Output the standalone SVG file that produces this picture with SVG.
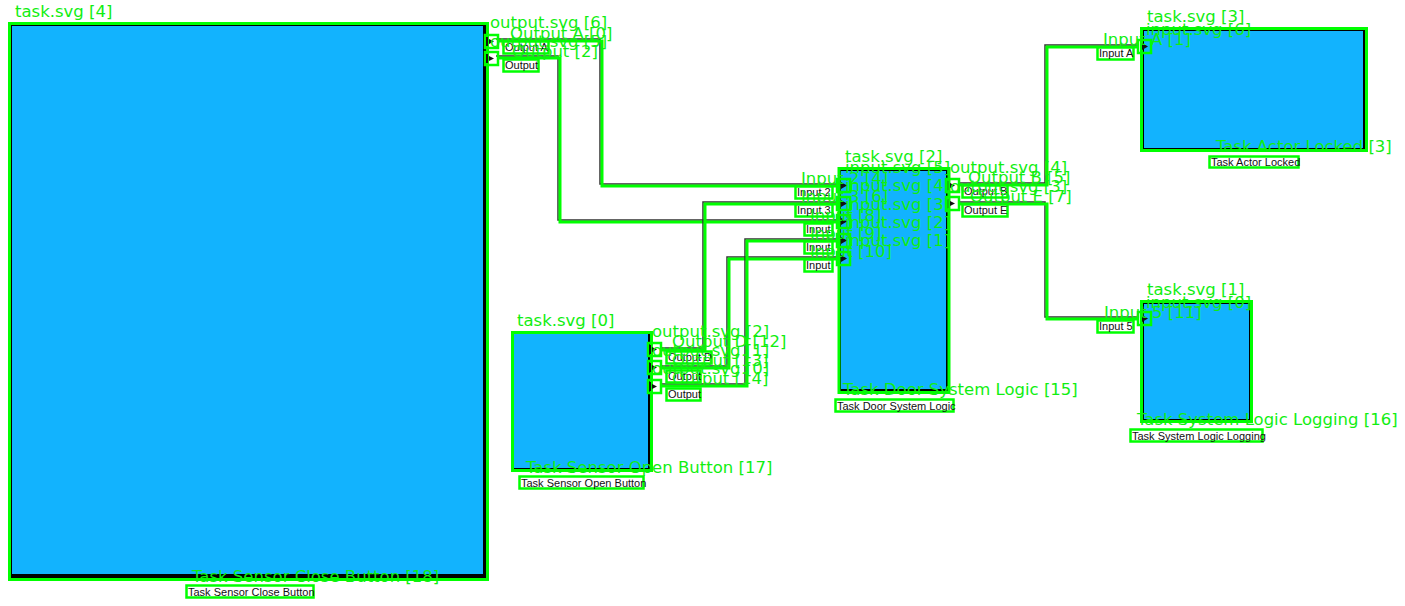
<svg xmlns="http://www.w3.org/2000/svg" width="1405" height="606" viewBox="0 0 1405 606">
<style>
.sh{fill:#000}
.bl{fill:#12b3fe}
.gb{fill:none;stroke:#0f0;stroke-width:3}
.gp{fill:none;stroke:#0f0;stroke-width:2.5}
.gt{font-family:"DejaVu Sans",sans-serif;font-size:16.5px;fill:#1e1}
.bt{font-family:"Liberation Sans",Arial,sans-serif;font-size:11px;fill:#111}
.lb{fill:#fff;stroke:#0f0;stroke-width:2.5}
.cd{fill:none;stroke:#333;stroke-width:1.5}
.cg{fill:none;stroke:#0f0;stroke-width:3}
.ar{fill:#111}
</style>
<rect width="1405" height="606" fill="#fff"/>
<g id="connectors">
<path class="cd" d="M496,39 H600 V184 H838"/>
<path class="cg" d="M498,41 H602 V186 H838"/>
<path class="cd" d="M496,56 H558 V220 H838"/>
<path class="cg" d="M498,58 H560 V222 H838"/>
<path class="cd" d="M661,348 H703 V202 H838"/>
<path class="cg" d="M661,350 H705 V204 H838"/>
<path class="cd" d="M661,366 H727 V257 H838"/>
<path class="cg" d="M661,368 H729 V259 H838"/>
<path class="cd" d="M661,384 H745 V239 H838"/>
<path class="cg" d="M661,386 H747 V241 H838"/>
<path class="cd" d="M959,183 H1045 V45 H1138"/>
<path class="cg" d="M959,185 H1047 V47 H1138"/>
<path class="cd" d="M959,202 H1045 V317 H1138"/>
<path class="cg" d="M959,204 H1047 V319 H1138"/>
</g>
<g id="task-sensor-close-button">
<rect class="sh" x="11" y="25" width="475" height="553"/>
<rect class="bl" x="12" y="26" width="471" height="548"/>
<rect class="gb" x="9.5" y="23.5" width="478" height="556"/>
<text class="gt" x="15" y="17">task.svg [4]</text>
<rect class="gp" x="485" y="35" width="13" height="13"/>
<rect class="ar" x="486" y="37" width="2" height="9"/>
<polygon class="ar" points="489,39 494,41.5 489,44"/>
<rect class="gp" x="485" y="52" width="13" height="13"/>
<rect class="ar" x="486" y="54" width="2" height="9"/>
<polygon class="ar" points="489,56 494,58.5 489,61"/>
<rect class="lb" x="503.5" y="41.5" width="45" height="12"/>
<text class="bt" x="505" y="51">Output A</text>
<rect class="lb" x="503.5" y="59.5" width="35" height="12"/>
<text class="bt" x="505" y="69">Output</text>
<text class="gt" x="490" y="28">output.svg [6]</text>
<text class="gt" x="510" y="39">Output A [0]</text>
<text class="gt" x="490" y="47">output.svg [5]</text>
<text class="gt" x="512" y="57">Output [2]</text>
<text class="gt" x="192" y="582">Task Sensor Close Button [18]</text>
<rect class="lb" x="186.5" y="585.5" width="127" height="12"/>
<text class="bt" x="188" y="596">Task Sensor Close Button</text>
</g>
<g id="task-sensor-open-button">
<rect class="sh" x="513" y="333" width="138" height="138"/>
<rect class="bl" x="514" y="334" width="134" height="134"/>
<rect class="gb" x="512.5" y="332.5" width="139" height="138"/>
<text class="gt" x="517" y="326">task.svg [0]</text>
<rect class="gp" x="648" y="343" width="13" height="13"/>
<rect class="ar" x="649" y="345" width="2" height="9"/>
<polygon class="ar" points="652,347 657,349.5 652,352"/>
<rect class="gp" x="648" y="361" width="13" height="13"/>
<rect class="ar" x="649" y="363" width="2" height="9"/>
<polygon class="ar" points="652,365 657,367.5 652,370"/>
<rect class="gp" x="648" y="380" width="13" height="13"/>
<rect class="ar" x="649" y="382" width="2" height="9"/>
<polygon class="ar" points="652,384 657,386.5 652,389"/>
<rect class="lb" x="666.5" y="351.5" width="45" height="12"/>
<text class="bt" x="668" y="361">Output D</text>
<rect class="lb" x="666.5" y="370.5" width="34" height="12"/>
<text class="bt" x="668" y="380">Output</text>
<rect class="lb" x="666.5" y="388.5" width="34" height="12"/>
<text class="bt" x="668" y="398">Output</text>
<text class="gt" x="652" y="337">output.svg [2]</text>
<text class="gt" x="672" y="347">Output D [12]</text>
<text class="gt" x="652" y="356">output.svg [1]</text>
<text class="gt" x="672" y="366">Output [13]</text>
<text class="gt" x="652" y="374">output.svg [0]</text>
<text class="gt" x="672" y="384">Output [14]</text>
<text class="gt" x="526" y="473">Task Sensor Open Button [17]</text>
<rect class="lb" x="519.5" y="476.5" width="124" height="12"/>
<text class="bt" x="521" y="487">Task Sensor Open Button</text>
</g>
<g id="task-door-system-logic">
<rect class="sh" x="840" y="170" width="108" height="221"/>
<rect class="bl" x="841" y="171" width="105" height="218"/>
<rect class="gb" x="839" y="168.5" width="110" height="224"/>
<text class="gt" x="845" y="162">task.svg [2]</text>
<rect class="gp" x="837" y="179" width="13" height="13"/>
<polygon class="ar" points="841,182 847,185.5 841,189"/>
<rect class="gp" x="837" y="197" width="13" height="13"/>
<polygon class="ar" points="841,200 847,203.5 841,207"/>
<rect class="gp" x="837" y="215" width="13" height="13"/>
<polygon class="ar" points="841,218 847,221.5 841,225"/>
<rect class="gp" x="837" y="234" width="13" height="13"/>
<polygon class="ar" points="841,237 847,240.5 841,244"/>
<rect class="gp" x="837" y="252" width="13" height="13"/>
<polygon class="ar" points="841,255 847,258.5 841,262"/>
<rect class="lb" x="795.5" y="186.5" width="37" height="12"/>
<text class="bt" x="797" y="196">Input 2</text>
<rect class="lb" x="795.5" y="204.5" width="37" height="12"/>
<text class="bt" x="797" y="214">Input 3</text>
<rect class="lb" x="804.5" y="223.5" width="28" height="12"/>
<text class="bt" x="806" y="233">Input</text>
<rect class="lb" x="804.5" y="241.5" width="28" height="12"/>
<text class="bt" x="806" y="251">Input</text>
<rect class="lb" x="804.5" y="259.5" width="28" height="12"/>
<text class="bt" x="806" y="269">Input</text>
<rect class="gp" x="946" y="179" width="13" height="13"/>
<rect class="ar" x="947" y="181" width="2" height="9"/>
<polygon class="ar" points="950,183 955,185.5 950,188"/>
<rect class="gp" x="946" y="197" width="13" height="13"/>
<rect class="ar" x="947" y="199" width="2" height="9"/>
<polygon class="ar" points="950,201 955,203.5 950,206"/>
<rect class="lb" x="962.5" y="185.5" width="45" height="12"/>
<text class="bt" x="964" y="195">Output B</text>
<rect class="lb" x="962.5" y="204.5" width="45" height="12"/>
<text class="bt" x="964" y="214">Output E</text>
<text class="gt" x="845" y="173">input.svg [5]</text>
<text class="gt" x="845" y="191">input.svg [4]</text>
<text class="gt" x="845" y="210">input.svg [3]</text>
<text class="gt" x="845" y="228">input.svg [2]</text>
<text class="gt" x="845" y="246">input.svg [1]</text>
<text class="gt" x="801" y="184">Input 2 [4]</text>
<text class="gt" x="801" y="202">Input 3 [6]</text>
<text class="gt" x="810" y="221">Input [8]</text>
<text class="gt" x="810" y="239">Input [9]</text>
<text class="gt" x="810" y="257">Input [10]</text>
<text class="gt" x="950" y="173">output.svg [4]</text>
<text class="gt" x="968" y="183">Output B [5]</text>
<text class="gt" x="950" y="192">output.svg [3]</text>
<text class="gt" x="970" y="202">Output E [7]</text>
<text class="gt" x="843" y="395">Task Door System Logic [15]</text>
<rect class="lb" x="835.5" y="399.5" width="118" height="12"/>
<text class="bt" x="837" y="410">Task Door System Logic</text>
</g>
<g id="task-actor-locked">
<rect class="sh" x="1143" y="30" width="222" height="120"/>
<rect class="bl" x="1144" y="31" width="219" height="117"/>
<rect class="gb" x="1141.5" y="28.5" width="225" height="122"/>
<text class="gt" x="1147" y="22">task.svg [3]</text>
<rect class="gp" x="1138" y="40" width="13" height="13"/>
<polygon class="ar" points="1142,43 1148,46.5 1142,50"/>
<rect class="lb" x="1097.5" y="47.5" width="36" height="12"/>
<text class="bt" x="1099" y="57">Input A</text>
<text class="gt" x="1146" y="35">input.svg [6]</text>
<text class="gt" x="1103" y="45">Input A [1]</text>
<text class="gt" x="1216" y="152">Task Actor Locked [3]</text>
<rect class="lb" x="1209.5" y="156.5" width="89" height="11"/>
<text class="bt" x="1211" y="166">Task Actor Locked</text>
</g>
<g id="task-system-logic-logging">
<rect class="sh" x="1143" y="303" width="108" height="118"/>
<rect class="bl" x="1144" y="304" width="105" height="115"/>
<rect class="gb" x="1141.5" y="301.5" width="110" height="120"/>
<text class="gt" x="1147" y="295">task.svg [1]</text>
<rect class="gp" x="1138" y="312" width="13" height="13"/>
<polygon class="ar" points="1142,315 1148,318.5 1142,322"/>
<rect class="lb" x="1097.5" y="320.5" width="36" height="12"/>
<text class="bt" x="1099" y="330">Input 5</text>
<text class="gt" x="1146" y="308">input.svg [0]</text>
<text class="gt" x="1104" y="318">Input 5 [11]</text>
<text class="gt" x="1137" y="425">Task System Logic Logging [16]</text>
<rect class="lb" x="1130.5" y="429.5" width="132" height="12"/>
<text class="bt" x="1132" y="440">Task System Logic Logging</text>
</g>
</svg>
